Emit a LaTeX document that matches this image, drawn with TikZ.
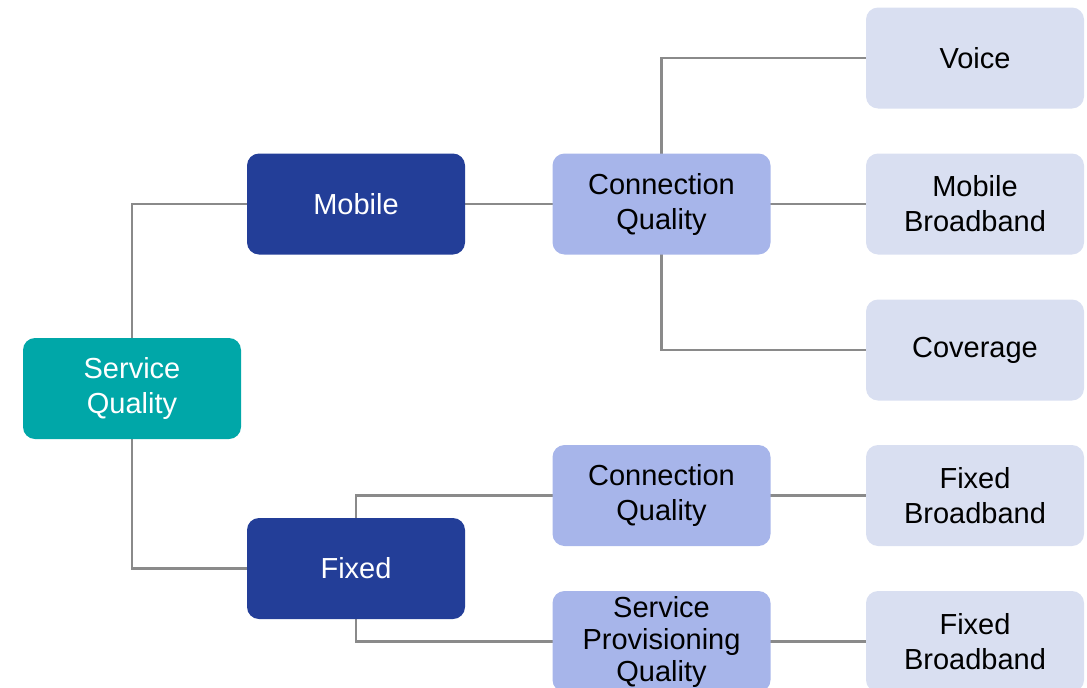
\documentclass[tikz,border=0pt]{standalone}
\usepackage{fontspec}
\setmainfont{Liberation Sans}
\begin{document}
\begin{tikzpicture}[x=1pt,y=-1pt,
  box/.style={rounded corners=12pt,minimum width=218pt,minimum height=101pt,inner sep=0pt,align=center,font=\fontsize{29}{35}\selectfont},
  root/.style={box,fill=rootc,text=white},
  lvlone/.style={box,fill=darkc,text=white},
  lvltwo/.style={box,fill=midc,text=black},
  leaf/.style={box,fill=lightc,text=black},
  link/.style={draw=linec,line width=2.2pt}]
\definecolor{rootc}{HTML}{00A7A8}
\definecolor{darkc}{HTML}{233E98}
\definecolor{midc}{HTML}{A7B5EA}
\definecolor{lightc}{HTML}{D9DFF1}
\definecolor{linec}{HTML}{8A8A8A}
\useasboundingbox (0,0) rectangle (1087,688);
\begin{scope}
\clip (0,0) rectangle (1087,688);
\coordinate (sqp) at (132,388.5);
\coordinate (mop) at (356,204);
\coordinate (fxp) at (356,568.5);
\coordinate (c1p) at (661.5,204);
\coordinate (c2p) at (661.5,495.5);
\coordinate (spp) at (661.5,641.5);
\draw[link] (sqp) |- (mop);
\draw[link] (sqp) |- (fxp);
\draw[link] (mop) -- (c1p);
\draw[link] (c1p) |- (975,58);
\draw[link] (c1p) -- (975,204);
\draw[link] (c1p) |- (975,350);
\draw[link] (fxp) |- (c2p);
\draw[link] (fxp) |- (spp);
\draw[link] (c2p) -- (975,495.5);
\draw[link] (spp) -- (975,641.5);
\node[root] (sq) at (sqp) {Service\\Quality};
\node[lvlone] (mo) at (mop) {Mobile};
\node[lvlone] (fx) at (fxp) {Fixed};
\node[lvltwo] (c1) at (c1p) {Connection\\Quality};
\node[lvltwo] (c2) at (c2p) {Connection\\Quality};
\node[lvltwo,font=\fontsize{29}{32}\selectfont] (sp) at (spp) {Service\\Provisioning\\Quality};
\node[leaf] (vo) at (975,58) {Voice};
\node[leaf] (mb) at (975,204) {Mobile\\Broadband};
\node[leaf] (cv) at (975,350) {Coverage};
\node[leaf] (f1) at (975,495.5) {Fixed\\Broadband};
\node[leaf] (f2) at (975,641.5) {Fixed\\Broadband};
\end{scope}
\end{tikzpicture}
\end{document}
